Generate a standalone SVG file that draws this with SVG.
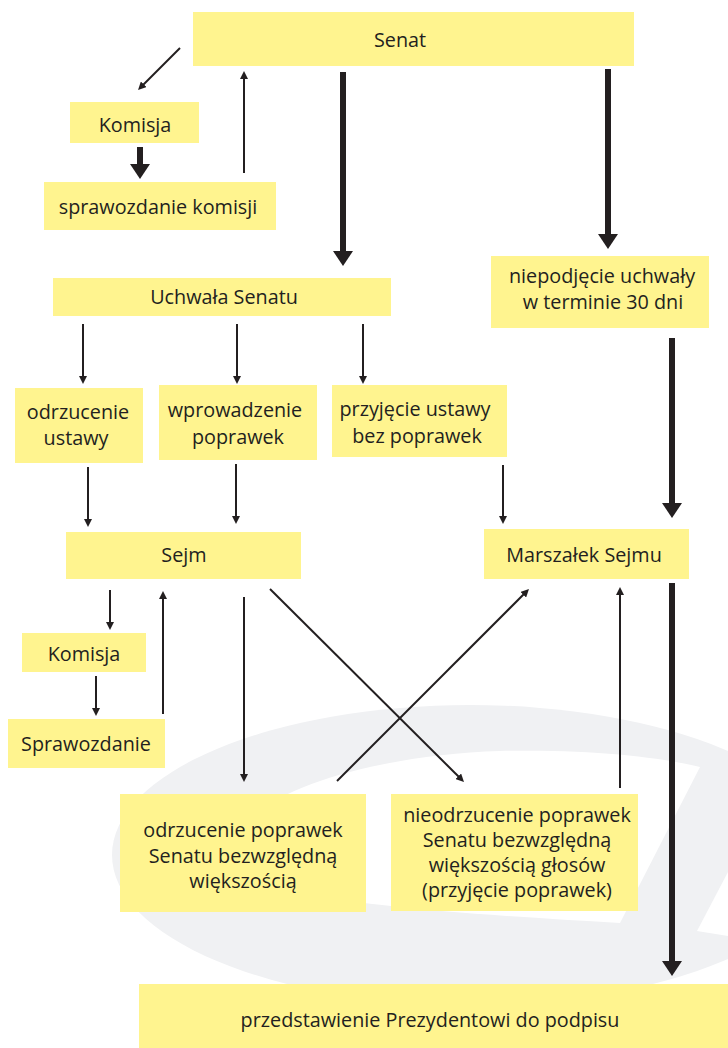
<svg xmlns="http://www.w3.org/2000/svg" width="728" height="1048" viewBox="0 0 728 1048">
<style>
.box{fill:#fff48f}
.t{font-family:"Open Sans","Noto Sans","DejaVu Sans",sans-serif;font-size:19.8px;fill:#231f20;text-anchor:middle}
.thin{stroke:#231f20;stroke-width:2;fill:none;marker-end:url(#ah)}
.thick{stroke:#231f20;stroke-width:6;fill:none;marker-end:url(#AH)}
.wm{fill:#f0f1f3}
</style>
<defs>
<marker id="ah" viewBox="0 0 10 10" refX="3" refY="5" markerWidth="8" markerHeight="8" markerUnits="userSpaceOnUse" orient="auto" preserveAspectRatio="none"><path d="M0,0 L10,5 L0,10 Z" fill="#231f20"/></marker>
<marker id="AH" viewBox="0 0 10 10" refX="3" refY="5" markerWidth="15" markerHeight="20" markerUnits="userSpaceOnUse" orient="auto" preserveAspectRatio="none"><path d="M0,0 L10,5 L0,10 Z" fill="#231f20"/></marker>
</defs>
<rect width="728" height="1048" fill="#ffffff"/>
<g id="watermark">
<ellipse class="wm" cx="470" cy="855" rx="358" ry="150"/>
<path fill="#ffffff" d="M235,850 C235,795 370,755 500,751 C590,749 660,757 700,767 L620,923 C480,915 330,905 270,885 C245,875 235,862 235,850 Z"/>
<path fill="#ffffff" d="M697,931 L728,872 L728,936 Z"/>
</g>
<g id="connectors">
<line class="thin" x1="180" y1="48" x2="142" y2="86"/>
<line class="thick" x1="140" y1="147" x2="140" y2="168.5"/>
<line class="thin" x1="244" y1="173" x2="244" y2="76.6"/>
<line class="thick" x1="343" y1="72" x2="343" y2="255.5"/>
<line class="thick" x1="608" y1="69" x2="608" y2="238.5"/>
<line class="thin" x1="83" y1="324" x2="83" y2="378.4"/>
<line class="thin" x1="237" y1="324" x2="237" y2="378.4"/>
<line class="thin" x1="363" y1="324" x2="363" y2="378.4"/>
<line class="thin" x1="88" y1="467" x2="88" y2="521.4"/>
<line class="thin" x1="236" y1="464" x2="236" y2="518.4"/>
<line class="thin" x1="503" y1="465" x2="503" y2="518.4"/>
<line class="thick" x1="672" y1="338" x2="672" y2="507.5"/>
<line class="thin" x1="110" y1="590" x2="110" y2="624.4"/>
<line class="thin" x1="96" y1="676" x2="96" y2="710.4"/>
<line class="thin" x1="163" y1="714" x2="163" y2="596.6"/>
<line class="thin" x1="244" y1="597" x2="244" y2="776.4"/>
<line class="thin" x1="270" y1="589" x2="460" y2="778"/>
<line class="thin" x1="337" y1="781" x2="525" y2="593"/>
<line class="thin" x1="620" y1="788" x2="620" y2="592.6"/>
<line class="thick" x1="672" y1="583" x2="672" y2="965.5"/>
</g>
<g id="senat"><rect class="box" x="193" y="12" width="441" height="54"/><text class="t" x="400" y="47">Senat</text></g>
<g id="komisja1"><rect class="box" x="70" y="102" width="129" height="41"/><text class="t" x="135" y="132">Komisja</text></g>
<g id="sprawozdanie-komisji"><rect class="box" x="44" y="182" width="232" height="48"/><text class="t" x="158" y="214">sprawozdanie komisji</text></g>
<g id="uchwala"><rect class="box" x="53" y="278" width="338" height="38"/><text class="t" x="224" y="304">Uchwała Senatu</text></g>
<g id="niepodjecie"><rect class="box" x="491" y="256" width="218" height="72"/><text class="t" x="602" y="283">niepodjęcie uchwały</text><text class="t" x="603" y="309">w terminie 30 dni</text></g>
<g id="odrzucenie-ustawy"><rect class="box" x="15" y="388" width="128" height="75"/><text class="t" x="78" y="419">odrzucenie</text><text class="t" x="76" y="445">ustawy</text></g>
<g id="wprowadzenie"><rect class="box" x="159" y="385" width="158" height="75"/><text class="t" x="235" y="417">wprowadzenie</text><text class="t" x="238" y="444">poprawek</text></g>
<g id="przyjecie"><rect class="box" x="332" y="385" width="175" height="72"/><text class="t" x="415" y="416">przyjęcie ustawy</text><text class="t" x="417" y="443">bez poprawek</text></g>
<g id="sejm"><rect class="box" x="66" y="532" width="235" height="47"/><text class="t" x="184" y="562">Sejm</text></g>
<g id="marszalek"><rect class="box" x="484" y="529" width="205" height="50"/><text class="t" x="584" y="562">Marszałek Sejmu</text></g>
<g id="komisja2"><rect class="box" x="22" y="633" width="124" height="39"/><text class="t" x="84" y="661">Komisja</text></g>
<g id="sprawozdanie"><rect class="box" x="8" y="719" width="157" height="49"/><text class="t" x="86" y="751">Sprawozdanie</text></g>
<g id="odrzucenie-poprawek"><rect class="box" x="120" y="794" width="246" height="118"/><text class="t" x="243" y="837">odrzucenie poprawek</text><text class="t" x="243" y="863">Senatu bezwzględną</text><text class="t" x="243" y="888">większością</text></g>
<g id="nieodrzucenie"><rect class="box" x="391" y="794" width="247" height="117"/><text class="t" x="517" y="822">nieodrzucenie poprawek</text><text class="t" x="517" y="847">Senatu bezwzględną</text><text class="t" x="517" y="872">większością głosów</text><text class="t" x="517" y="897">(przyjęcie poprawek)</text></g>
<g id="przedstawienie"><rect class="box" x="139" y="984" width="589" height="64"/><text class="t" x="430" y="1027">przedstawienie Prezydentowi do podpisu</text></g>
</svg>
